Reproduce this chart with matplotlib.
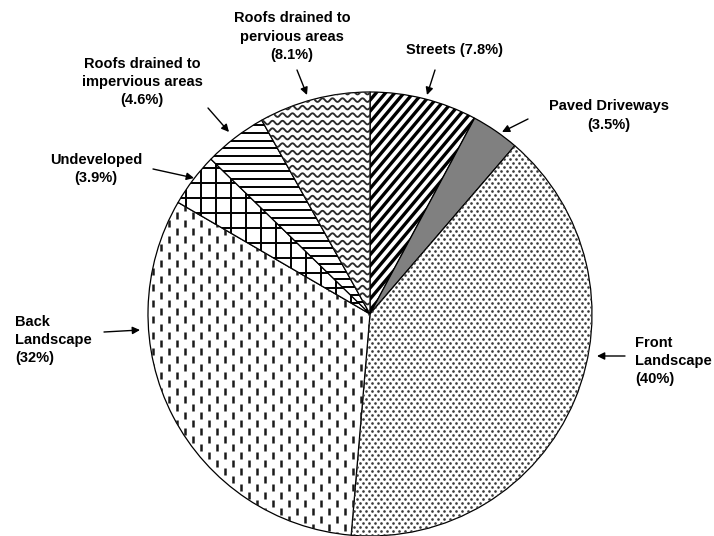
import numpy as np
import matplotlib
matplotlib.use("Agg")
import matplotlib.pyplot as plt
from matplotlib.collections import LineCollection

# ---- data ----
categories = ["Streets", "Paved Driveways", "Front Landscape", "Back Landscape",
              "Undeveloped", "Roofs drained to impervious areas",
              "Roofs drained to pervious areas"]
shares = [7.8, 3.5, 40, 32, 3.9, 4.6, 8.1]
label_texts = ["Streets (7.8%)", "Paved Driveways\n(3.5%)", "Front\nLandscape\n(40%)",
               "Back\nLandscape\n(32%)", "Undeveloped\n(3.9%)",
               "Roofs drained to\nimpervious areas\n(4.6%)",
               "Roofs drained to\npervious areas\n(8.1%)"]

# ---- layout (pixel geometry of the figure) ----
W, H = 714, 536
CX, CY, R = 370, 314, 222


def P(px, py):
    return ((px - CX) / R, (CY - py) / R)


def d(px):
    return px / R


plt.rcParams['font.family'] = ['Liberation Sans', 'DejaVu Sans']
fig = plt.figure(figsize=(W / 100, H / 100), dpi=100)
ax = fig.add_axes([0, 0, 1, 1])
wedges, _ = ax.pie(shares, startangle=90, counterclock=False, radius=1,
                   colors=["white", "#808080", "white", "white", "white", "white", "white"],
                   wedgeprops=dict(edgecolor="black", linewidth=0.9))
ax.set_xlim(-CX / R, (W - CX) / R)
ax.set_ylim((CY - H) / R, CY / R)
ax.set_aspect('equal')
ax.axis('off')

L = 1.3  # extent for patterns


def add_lines(segs, wedge, lw, color="black", cap="butt"):
    lc = LineCollection(segs, colors=color, linewidths=lw, capstyle=cap, zorder=2)
    ax.add_collection(lc)
    lc.set_clip_path(wedge)


# Streets: diagonal stripes
th = np.deg2rad(50)
dv = np.array([np.cos(th), np.sin(th)])
nv = np.array([-np.sin(th), np.cos(th)])
sp = d(7.1)
segs = []
for k in np.arange(-L, L, sp):
    c = nv * k
    segs.append([c - dv * L, c + dv * L])
add_lines(segs, wedges[0], 2.4)

# Front landscape: dots
xs, ys = [], []
row = 0
for y in np.arange(-L, L, d(4)):
    off = d(3) if row % 2 else 0
    for x in np.arange(-L + off, L, d(6)):
        xs.append(x)
        ys.append(y)
    row += 1
dots, = ax.plot(xs, ys, ls='none', marker='o', ms=1.9, mew=0, color="#3a3a3a", zorder=2)
dots.set_clip_path(wedges[2])

# Back landscape: staggered vertical dashes
segs = []
col = 0
for x in np.arange(-L, L, d(8)):
    off = d(8) if col % 2 else 0
    for y in np.arange(-L + off, L, d(16)):
        segs.append([(x, y), (x, y + d(7))])
    col += 1
add_lines(segs, wedges[3], 1.8, color="#1a1a1a")

# Undeveloped: grid
segs = []
for v in np.arange(-L, L, d(15)):
    segs.append([(v, -L), (v, L)])
    segs.append([(-L, v), (L, v)])
add_lines(segs, wedges[4], 1.4)

# Roofs impervious: horizontal lines
segs = [[(-L, y), (L, y)] for y in np.arange(-L, L, d(7.7))]
add_lines(segs, wedges[5], 1.4)

# Roofs pervious: wavy lines
xx = np.linspace(-L, L, 1500)
segs = []
for y in np.arange(-L, L, d(7.5)):
    yy = y + d(1.8) * np.sin(2 * np.pi * xx / d(10))
    segs.append(np.column_stack([xx, yy]))
add_lines(segs, wedges[6], 1.35, color="#2a2a2a", cap="round")

# ---- labels with arrows ----
# (text x, text y, ha, tail x, tail y, head x, head y)
label_pos = [
    (454, 50, 'center', 435, 70, 427, 95),
    (609, 115.5, 'center', 528, 119, 502, 132),
    (635, 361, 'left', 625, 356, 597, 356),
    (15, 340, 'left', 104, 332, 140, 330),
    (96, 169, 'center', 153, 169, 194, 178),
    (142, 82, 'center', 208, 108, 229, 132),
    (292, 36.5, 'center', 297, 70, 307, 95),
]
for txt, (tx, ty, ha, ax0, ay0, ax1, ay1) in zip(label_texts, label_pos):
    ax.text(*P(tx, ty), txt, ha=ha, va='center', fontsize=10.5, fontweight='bold',
            linespacing=1.4, multialignment=ha)
    ax.annotate("", xy=P(ax1, ay1), xytext=P(ax0, ay0),
                arrowprops=dict(arrowstyle='-|>', color='black', lw=1.0,
                                mutation_scale=11, shrinkA=0, shrinkB=0))

fig.savefig("out.png", dpi=100)
